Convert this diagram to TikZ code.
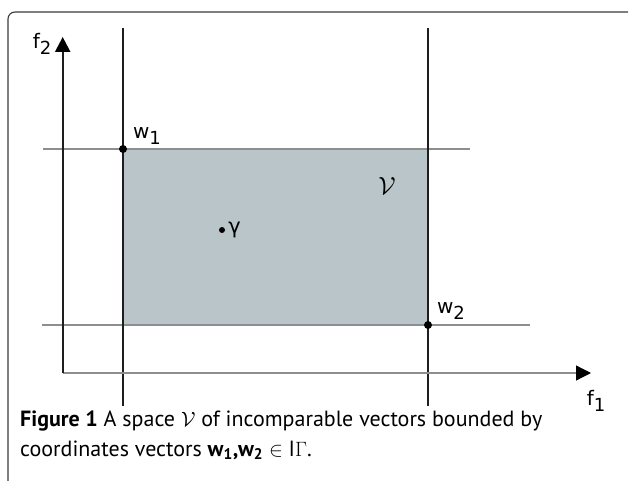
\documentclass[tikz,border=0pt]{standalone}
\usepackage{fontspec}
\setmainfont{PT Sans}
\newfontfamily\lblfont{DejaVu Sans}
\usetikzlibrary{arrows.meta,positioning}
\definecolor{spaceFill}{HTML}{BAC5C9}
\definecolor{gridGray}{HTML}{8E8E8E}
\definecolor{lineDark}{HTML}{1E1E1E}
\definecolor{frameGray}{HTML}{3A3A3A}
\newcommand{\sublbl}[2]{#1\raisebox{-0.5ex}{\fontsize{18}{18}\selectfont #2}}

\begin{document}
\begin{tikzpicture}[
    x=1pt, y=-1pt,
    frame/.style={draw=frameGray, line width=1.1pt, rounded corners=7pt},
    gridline/.style={draw=gridGray, line width=1.2pt},
    bound/.style={draw=lineDark, line width=2pt},
    axis/.style={-{Triangle[length=15pt,width=15pt,color=black,fill=black]}},
    dot/.style={circle, fill=black, inner sep=0pt, minimum size=8pt},
    lbl/.style={font=\lblfont\fontsize{20}{20}\selectfont, inner sep=0pt},
    caption/.style={font=\fontsize{22}{22}\selectfont, inner sep=0pt, anchor=base west}
  ]
    \useasboundingbox (0,0) rectangle (629,481);
    % frame of the figure
    \coordinate (frameBL) at (8,481);
    \coordinate (frameTR) at (628,12);
    \draw[frame] (frameBL) |- (frameTR);

    % the space V
    \coordinate (boxTL) at (123,149);
    \coordinate (boxBR) at (428,325);
    \fill[spaceFill] (boxTL) rectangle (boxBR);

    % bounding lines
    \coordinate (topL) at (43,149);
    \coordinate (topR) at (470,149);
    \coordinate (botL) at (42,325);
    \coordinate (botR) at (530,325);
    \coordinate (leftT) at (123,28);
    \coordinate (leftB) at (123,406);
    \coordinate (rightT) at (428,28);
    \coordinate (rightB) at (428,406);
    \draw[gridline] (topL) -- (topR);
    \draw[gridline] (botL) -- (botR);
    \draw[bound] (leftT) -- (leftB);
    \draw[bound] (rightT) -- (rightB);

    % axes
    \coordinate (origin) at (62.7,373);
    \coordinate (f2tip) at (62.7,37);
    \coordinate (f1tip) at (591,373);
    \draw[gridline, axis] (origin) -- (f1tip);
    \draw[bound, line width=2.4pt, axis] (origin) -- (f2tip);
    \node[lbl] (f2) at (42,44) {\sublbl{f}{2}};
    \node[lbl] (f1) at (596,401) {\sublbl{f}{1}};

    % vectors
    \node[dot] (w1) at (boxTL) {};
    \node[dot] (w2) at (boxBR) {};
    \node[dot, minimum size=6pt] (g) at (222,230) {};
    \node[lbl] (w1lbl) at (147,136) {\sublbl{w}{1}};
    \node[lbl] (w2lbl) at (451,311) {\sublbl{w}{2}};
    \node[lbl, right=3pt of g, font=\lblfont\fontsize{21}{21}\selectfont] (glbl) {γ};
    \node[inner sep=0pt] (vlbl) at (387,186) {\fontsize{25}{25}\selectfont$\mathcal{V}$};

    % caption
    \node[caption] (cap1) at (20,426) {\textbf{Figure 1} A space $\mathcal{V}$ of incomparable vectors bounded by};
    \node[caption] (cap2) at (20,456) {coordinates vectors \textbf{w$_{\mathbf{1}}$,w$_{\mathbf{2}}$} $\in$ I$\Gamma$.};
\end{tikzpicture}
\end{document}
